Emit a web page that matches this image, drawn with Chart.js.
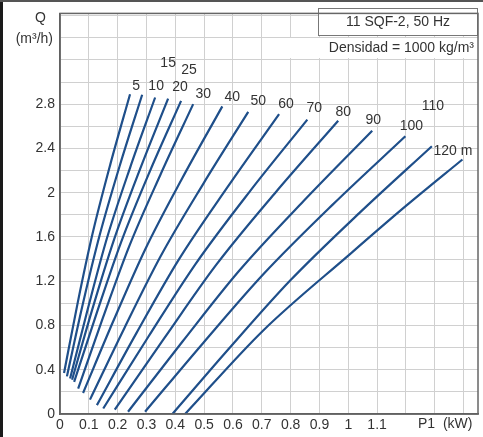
<!DOCTYPE html>
<html>
<head>
<meta charset="utf-8">
<script src="https://cdn.jsdelivr.net/npm/chart.js@4"></script>
<style>
  html, body { margin: 0; padding: 0; background: #fff; }
  #wrap { position: relative; width: 483px; height: 437px; }
  #wrap:before { content: ""; position: absolute; left: 0; top: 0; width: 3px; height: 437px; background: #1a1a1a; z-index: 2; }
  #wrap:after { content: ""; position: absolute; left: 0; top: 0; width: 483px; height: 2px; background: #555; z-index: 2; }
</style>
</head>
<body>
<div id="wrap"><canvas id="chart" width="483" height="437"></canvas></div>
<script>
// head of each curve (m)
var heads = [5, 10, 15, 20, 25, 30, 40, 50, 60, 70, 80, 90, 100, 110, 120];

// P1 (kW) along each curve, bottom to top
var powerKW = [
    [0.014, 0.061, 0.113, 0.175, 0.243],
    [0.024, 0.078, 0.137, 0.208, 0.285],
    [0.035, 0.097, 0.163, 0.243, 0.330],
    [0.042, 0.112, 0.188, 0.278, 0.375],
    [0.049, 0.129, 0.213, 0.312, 0.420],
    [0.063, 0.149, 0.240, 0.348, 0.462],
    [0.080, 0.185, 0.295, 0.424, 0.563],
    [0.104, 0.224, 0.350, 0.497, 0.653],
    [0.128, 0.267, 0.412, 0.581, 0.760],
    [0.150, 0.307, 0.470, 0.658, 0.858],
    [0.190, 0.363, 0.541, 0.747, 0.965],
    [0.236, 0.425, 0.620, 0.845, 1.083],
    [0.295, 0.496, 0.706, 0.945, 1.198],
    [0.390, 0.591, 0.800, 1.038, 1.290],
    [0.434, 0.705, 1.007, 1.200, 1.396]
];

// Q (m3/h) along each curve, bottom to top
var flowQ = [
    [0.37, 1.00, 1.63, 2.26, 2.89],
    [0.34, 0.98, 1.61, 2.25, 2.885],
    [0.32, 0.955, 1.59, 2.225, 2.86],
    [0.31, 0.945, 1.58, 2.215, 2.85],
    [0.29, 0.925, 1.56, 2.195, 2.83],
    [0.23, 0.87, 1.515, 2.16, 2.80],
    [0.19, 0.84, 1.485, 2.13, 2.78],
    [0.13, 0.78, 1.43, 2.08, 2.73],
    [0.08, 0.74, 1.395, 2.05, 2.71],
    [0.05, 0.70, 1.355, 2.01, 2.66],
    [0.04, 0.69, 1.345, 2.00, 2.65],
    [0.02, 0.655, 1.29, 1.925, 2.56],
    [0.02, 0.64, 1.265, 1.89, 2.51],
    [0.00, 0.605, 1.21, 1.815, 2.42],
    [0.00, 0.755, 1.447, 1.88, 2.30]
];

var curveLabels = ["5", "10", "15", "20", "25", "30", "40", "50", "60", "70", "80", "90", "100", "110", "120 m"];
// label offset from curve end, px
var labelShift = [[6, -8], [14, -9], [13, -34], [12, -11], [8, -31], [10, -10], [10, -9], [10, -11],
                  [7, -10], [7, -11], [5, -9], [1, -11], [6, -10], [1, -40], [-6, -8]];

var yTickLabels = [0, 0.4, 0.8, 1.2, 1.6, 2, 2.4, 2.8];
var xTickLabels = [0, 0.1, 0.2, 0.3, 0.4, 0.5, 0.6, 0.7, 0.8, 0.9, 1, 1.1];

var FONT = "'Liberation Sans', Arial, sans-serif";
var TXT = '#333';

var datasets = heads.map(function (h, i) {
    return {
        label: h + ' m',
        data: powerKW[i].map(function (p, j) { return { x: p, y: flowQ[i][j] }; }),
        showLine: true,
        borderColor: '#1f4f8a',
        borderWidth: 2.2,
        pointRadius: 0,
        cubicInterpolationMode: 'monotone',
        fill: false
    };
});

var decor = {
    id: 'decor',
    afterDatasetsDraw: function (chart) {
        var ctx = chart.ctx, a = chart.chartArea;
        ctx.save();
        // curve labels
        ctx.font = '14px ' + FONT;
        ctx.fillStyle = TXT;
        ctx.textAlign = 'center';
        ctx.textBaseline = 'middle';
        chart.data.datasets.forEach(function (ds, i) {
            var pts = chart.getDatasetMeta(i).data;
            var last = pts[pts.length - 1];
            var s = labelShift[i];
            var tx = last.x + s[0];
            if (i === curveLabels.length - 1) { ctx.textAlign = 'left'; tx = last.x - 29; }
            ctx.fillText(curveLabels[i], tx, last.y + s[1]);
            ctx.textAlign = 'center';
        });
        // title box
        ctx.fillStyle = '#fff';
        ctx.fillRect(318, 8, 160, 28);
        ctx.strokeStyle = '#777';
        ctx.lineWidth = 1;
        ctx.strokeRect(318.5, 8.5, 159, 27);
        ctx.fillRect(284, 38, 192, 20);
        ctx.fillStyle = TXT;
        ctx.font = '14px ' + FONT;
        ctx.fillText('11 SQF-2, 50 Hz', 398, 22);
        ctx.textAlign = 'right';
        ctx.fillText('Densidad = 1000 kg/m³', 474, 48);
        // axis titles
        ctx.fillText('Q', 46, 18);
        ctx.fillText('(m³/h)', 53, 39);
        ctx.textAlign = 'left';
        ctx.fillText('P1  (kW)', 418, 424);
        // frame
        ctx.strokeStyle = '#666';
        ctx.lineWidth = 1.5;
        ctx.strokeRect(a.left, a.top, a.right - a.left, a.bottom - a.top);
        ctx.restore();
    }
};

new Chart(document.getElementById('chart').getContext('2d'), {
    type: 'scatter',
    data: { datasets: datasets },
    options: {
        responsive: false,
        animation: false,
        layout: { padding: { top: 12, right: 5, left: 0, bottom: 0 } },
        plugins: { legend: { display: false }, tooltip: { enabled: false } },
        scales: {
            x: {
                type: 'linear', min: 0, max: 1.45,
                afterFit: function (s) { s.height = 23; },
                grid: { color: '#d0d0d0', lineWidth: 1, drawTicks: false },
                border: { color: '#555', width: 1.5 },
                afterBuildTicks: function (s) {
                    var t = [];
                    for (var k = 0; k <= 14; k++) t.push({ value: k / 10 });
                    s.ticks = t;
                },
                ticks: {
                    autoSkip: false, maxRotation: 0, padding: 3,
                    color: TXT, font: { size: 14, family: FONT },
                    callback: function (v) {
                        var r = Math.round(v * 10) / 10;
                        return xTickLabels.indexOf(r) >= 0 ? String(r) : '';
                    }
                }
            },
            y: {
                type: 'linear', min: 0, max: 3.62,
                afterFit: function (s) { s.width = 60; },
                grid: { color: '#d0d0d0', lineWidth: 1, drawTicks: false },
                border: { color: '#555', width: 1.5 },
                afterBuildTicks: function (s) {
                    var t = [];
                    for (var k = 0; k <= 18; k++) t.push({ value: k / 5 });
                    s.ticks = t;
                },
                ticks: {
                    autoSkip: false, padding: 5,
                    color: TXT, font: { size: 14, family: FONT },
                    callback: function (v) {
                        var r = Math.round(v * 10) / 10;
                        return yTickLabels.indexOf(r) >= 0 ? String(r) : '';
                    }
                }
            }
        }
    },
    plugins: [decor]
});
</script>
</body>
</html>
